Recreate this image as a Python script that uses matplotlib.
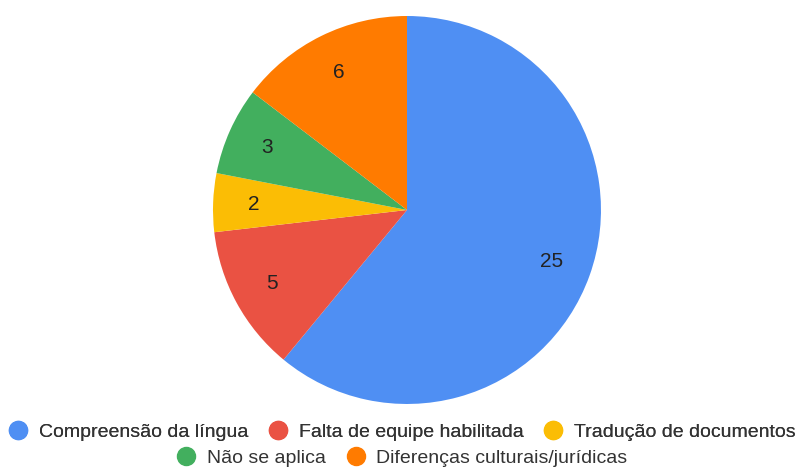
import matplotlib.pyplot as plt
from matplotlib.lines import Line2D

plt.rcParams['font.family'] = ['Liberation Sans', 'DejaVu Sans']

categories = ["Compreensão da língua", "Falta de equipe habilitada",
              "Tradução de documentos", "Não se aplica",
              "Diferenças culturais/jurídicas"]
values = [25, 5, 2, 3, 6]
colors = ["#4F8FF3", "#EA5243", "#FBBD05", "#42AF5E", "#FF7B00"]

fig = plt.figure(figsize=(8.04, 4.68), dpi=100)
ax = fig.add_axes([0.2649, 0.1368, 0.4826, 0.829])

wedges, texts = ax.pie(
    values,
    colors=colors,
    startangle=90,
    counterclock=False,
    labels=[str(v) for v in values],
    labeldistance=0.79,
    wedgeprops=dict(linewidth=0),
    textprops=dict(fontsize=15, color="#222222", ha="center", va="center"),
)
ax.set_xlim(-1, 1)
ax.set_ylim(-1, 1)
ax.set_aspect("equal")
ax.axis("off")


def handle(c):
    return Line2D([], [], marker="o", linestyle="none", markersize=13,
                  markerfacecolor=c, markeredgecolor=c)


# legend is split into two centered rows like the original
legend_opts = dict(loc="center", frameon=False, fontsize=14,
                   handletextpad=0.55, columnspacing=1.05,
                   handlelength=1.0, labelcolor="#333333")
leg1 = fig.legend([handle(c) for c in colors[:3]], categories[:3],
                  bbox_to_anchor=(0.5, 0.076), ncol=3, **legend_opts)
leg2 = fig.legend([handle(c) for c in colors[3:]], categories[3:],
                  bbox_to_anchor=(0.5, 0.021), ncol=2, **legend_opts)
fig.add_artist(leg1)

fig.savefig("out.png", dpi=100, facecolor="white")
